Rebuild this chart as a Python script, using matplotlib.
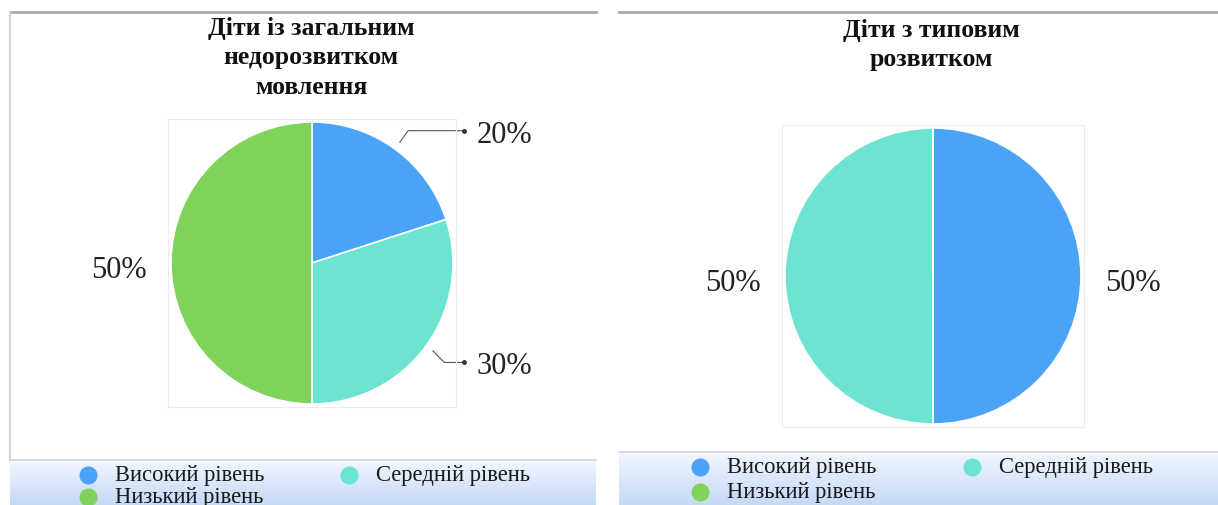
import numpy as np
import matplotlib

matplotlib.use("Agg")
import matplotlib.pyplot as plt
from matplotlib.lines import Line2D

plt.rcParams["font.family"] = ["Liberation Serif", "DejaVu Serif"]

W, H = 1218, 506

# --- data ---------------------------------------------------------------- #
levels = ["Високий рівень", "Середній рівень", "Низький рівень"]
colors = ["#4aa3f7", "#6de3d2", "#80d35a"]

title_left = "Діти із загальним\nнедорозвитком\nмовлення"
values_left = [20, 30, 50]

title_right = "Діти з типовим\nрозвитком"
values_right = [50, 50, 0]


def fx(x):
    return x / W


def fy(y):
    return 1 - y / H


def px_axes(fig, x0, y0, w, h, **kw):
    """Axes placed by pixel box (top-left origin)."""
    return fig.add_axes([fx(x0), fy(y0 + h), w / W, h / H], **kw)


def draw_panel(fig, x0, x1, band_top, left_border):
    # grey top rule
    fig.add_artist(Line2D([fx(x0), fx(x1)], [fy(13), fy(13)],
                          color="#a9a9a9", lw=2.0))
    if left_border:
        fig.add_artist(Line2D([fx(x0), fx(x0)], [fy(13), fy(band_top)],
                              color="#d4d4d4", lw=1.5))
    # legend band with vertical gradient
    band = px_axes(fig, x0, band_top, x1 - x0, H - band_top)
    grad = np.linspace(0, 1, 64).reshape(-1, 1)
    c0 = np.array([0.945, 0.965, 1.0])
    c1 = np.array([0.775, 0.850, 0.965])
    img = c0 + (c1 - c0) * grad[..., None]
    band.imshow(img.repeat(2, axis=1), aspect="auto", extent=(0, 1, 0, 1))
    band.set_axis_off()
    fig.add_artist(Line2D([fx(x0), fx(x1)], [fy(band_top), fy(band_top)],
                          color="#d2d2d8", lw=1.2))


def draw_pie(fig, cx, cy, r, values, leaders, label_r=1.37):
    pad = 3
    ax = px_axes(fig, cx - r - pad, cy - r - pad, 2 * (r + pad), 2 * (r + pad))
    lim = (r + pad) / r
    wedges, _ = ax.pie(values, colors=colors, startangle=90,
                       counterclock=False, radius=1,
                       wedgeprops=dict(edgecolor="white", linewidth=1.2))
    ax.set_xlim(-lim, lim)
    ax.set_ylim(-lim, lim)
    ax.set_frame_on(True)
    for s in ax.spines.values():
        s.set_visible(True)
        s.set_color("#ececec")
        s.set_linewidth(0.8)
    ax.set_xticks([])
    ax.set_yticks([])

    for w, v, lead in zip(wedges, values, leaders):
        if v == 0:
            continue
        ang = np.deg2rad((w.theta1 + w.theta2) / 2)
        ca, sa = np.cos(ang), np.sin(ang)
        if lead:
            side = 1 if ca >= 0 else -1
            x_e, y_e = 1.16 * ca, 1.16 * sa
            if sa < 0:
                y_e = 1.2 * sa
            x_d = side * 1.08
            ax.plot([1.06 * ca, x_e, x_d], [1.06 * sa, y_e, y_e],
                    color="#555555", lw=0.8, clip_on=False)
            ax.plot([x_d], [y_e], "o", ms=2.5, color="#333333", clip_on=False)
            ax.text(side * 1.17, y_e, f"{v}%", fontsize=22,
                    ha="left" if side > 0 else "right",
                    va="center_baseline", color="#222222", clip_on=False)
        else:
            ax.text(label_r * ca, label_r * sa - 0.02, f"{v}%", fontsize=22,
                    ha="center", va="center_baseline", color="#222222",
                    clip_on=False)


def draw_legend(fig, x_mark, col_gap, y_row, row_gap):
    for i, (name, c) in enumerate(zip(levels, colors)):
        row, col = divmod(i, 2)
        xm = x_mark + col * col_gap
        ym = y_row + row * row_gap
        fig.add_artist(Line2D([fx(xm)], [fy(ym)], marker="o", ms=12,
                              color=c, lw=0))
        fig.text(fx(xm + 27), fy(ym), name, fontsize=16.3, ha="left",
                 va="center", color="#1a1a1a")


fig = plt.figure(figsize=(W / 100, H / 100), dpi=100)
fig.patch.set_facecolor("white")

# left panel
draw_panel(fig, 10, 596, 461, True)
fig.text(fx(311), fy(17), title_left, fontsize=18.5, fontweight="bold",
         ha="center", va="top", linespacing=1.36, color="#111111")
draw_pie(fig, 312, 264, 141, values_left, [True, True, False])
draw_legend(fig, 88, 261, 476, 22)

# right panel
draw_panel(fig, 619, W, 453, False)
fig.text(fx(931), fy(19), title_right, fontsize=18.5, fontweight="bold",
         ha="center", va="top", linespacing=1.36, color="#111111")
draw_pie(fig, 933, 277, 148, values_right, [False, False, False],
         label_r=1.35)
draw_legend(fig, 700, 272, 468, 25)

fig.savefig("out.png", dpi=100)
